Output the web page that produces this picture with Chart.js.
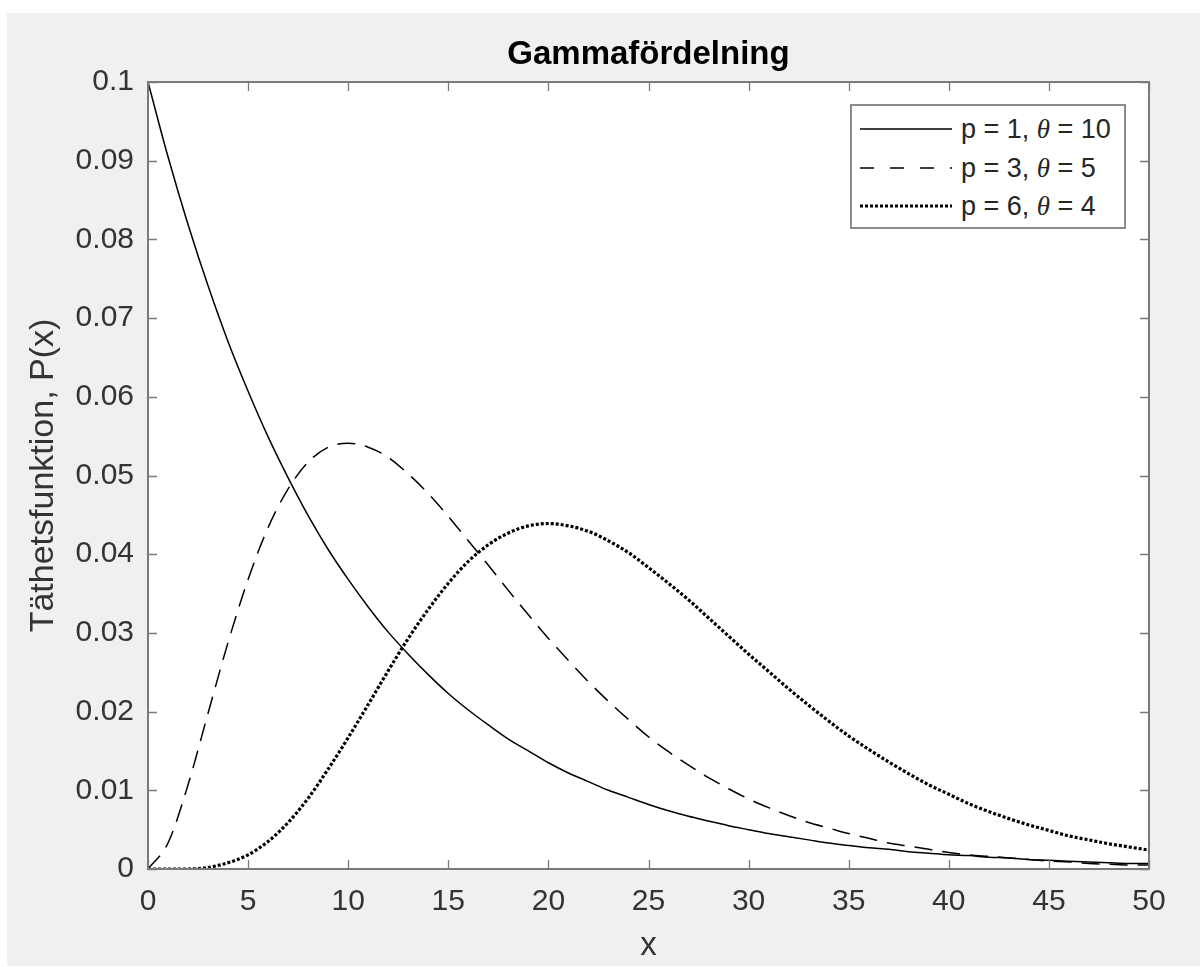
<!DOCTYPE html>
<html>
<head>
<meta charset="utf-8">
<title>Gammafördelning</title>
<script src="https://cdn.jsdelivr.net/npm/chart.js@4/dist/chart.umd.min.js"></script>
<style>
    html, body {
        margin: 0;
        padding: 0;
        background: #ffffff;
        width: 1200px;
        height: 967px;
        overflow: hidden;
    }
    #figure {
        position: absolute;
        left: 7px;
        top: 13px;
        width: 1193px;
        height: 953px;
        background: #f0f0f0;
    }
    #legendBox {
        position: absolute;
        left: 843px;
        top: 91px;
        width: 276px;
        height: 125px;
        box-sizing: border-box;
        border: 2px solid #8c8c8c;
        background: #ffffff;
        font-family: "Liberation Sans", Arial, sans-serif;
        font-size: 27px;
        color: #262626;
    }
    .legend-row {
        position: absolute;
        left: 8px;
        height: 30px;
        line-height: 30px;
        white-space: nowrap;
    }
    .legend-row svg {
        position: absolute;
        left: 0;
        top: 10px;
    }
    .legend-row span {
        position: absolute;
        left: 101px;
        top: 0;
    }
    .legend-row i {
        font-family: "Liberation Serif", serif;
    }
</style>
</head>
<body>
<div id="figure">
    <canvas id="gammaChart" width="1193" height="953"></canvas>
    <div id="legendBox">
        <div class="legend-row" style="top: 8px;">
            <svg width="92" height="10"><line x1="0" y1="5" x2="92" y2="5" stroke="#000" stroke-width="1.5"/></svg>
            <span>p = 1, <i>θ</i> = 10</span>
        </div>
        <div class="legend-row" style="top: 47px;">
            <svg width="92" height="10"><line x1="0" y1="5" x2="92" y2="5" stroke="#000" stroke-width="1.5" stroke-dasharray="14 16"/></svg>
            <span>p = 3, <i>θ</i> = 5</span>
        </div>
        <div class="legend-row" style="top: 85px;">
            <svg width="92" height="10"><line x1="0" y1="5" x2="92" y2="5" stroke="#000" stroke-width="3.2" stroke-dasharray="3 2"/></svg>
            <span>p = 6, <i>θ</i> = 4</span>
        </div>
    </div>
</div>
<script>
// ============================================
// Data
// ============================================

const xValues = [
    0, 1, 2, 3, 4, 5, 6, 7, 8, 9,
    10, 11, 12, 13, 14, 15, 16, 17, 18, 19,
    20, 21, 22, 23, 24, 25, 26, 27, 28, 29,
    30, 31, 32, 33, 34, 35, 36, 37, 38, 39,
    40, 41, 42, 43, 44, 45, 46, 47, 48, 49, 50,
];

// p = 1, theta = 10
const densityP1 = [
    0.1000, 0.0905, 0.0819, 0.0741, 0.0670, 0.0607, 0.0549, 0.0497, 0.0449, 0.0406,
    0.0368, 0.0333, 0.0301, 0.0273, 0.0247, 0.0223, 0.0202, 0.0183, 0.0165, 0.0150,
    0.0135, 0.0122, 0.0111, 0.0100, 0.0091, 0.0082, 0.0074, 0.0067, 0.0061, 0.0055,
    0.0050, 0.0045, 0.0041, 0.0037, 0.0033, 0.0030, 0.0027, 0.0025, 0.0022, 0.0020,
    0.0018, 0.0017, 0.0015, 0.0014, 0.0012, 0.0011, 0.0010, 0.0009, 0.0008, 0.0007, 0.0007,
];

// p = 3, theta = 5
const densityP3 = [
    0.0000, 0.0033, 0.0107, 0.0198, 0.0288, 0.0368, 0.0434, 0.0483, 0.0517, 0.0536,
    0.0541, 0.0536, 0.0523, 0.0502, 0.0477, 0.0448, 0.0417, 0.0386, 0.0354, 0.0323,
    0.0293, 0.0265, 0.0238, 0.0213, 0.0190, 0.0168, 0.0149, 0.0132, 0.0116, 0.0102,
    0.0089, 0.0078, 0.0068, 0.0059, 0.0052, 0.0045, 0.0039, 0.0033, 0.0029, 0.0025,
    0.0021, 0.0018, 0.0016, 0.0014, 0.0012, 0.0010, 0.0009, 0.0007, 0.0006, 0.0005, 0.0005,
];

// p = 6, theta = 4
const densityP6 = [
    0.0000, 0.0000, 0.0000, 0.0002, 0.0008, 0.0018, 0.0035, 0.0059, 0.0090, 0.0127,
    0.0167, 0.0209, 0.0252, 0.0293, 0.0330, 0.0363, 0.0391, 0.0412, 0.0427, 0.0436,
    0.0439, 0.0436, 0.0429, 0.0417, 0.0402, 0.0383, 0.0363, 0.0342, 0.0319, 0.0296,
    0.0273, 0.0251, 0.0229, 0.0208, 0.0188, 0.0169, 0.0152, 0.0136, 0.0121, 0.0107,
    0.0095, 0.0083, 0.0073, 0.0064, 0.0056, 0.0049, 0.0042, 0.0037, 0.0032, 0.0028, 0.0024,
];

const xTickValues = [0, 5, 10, 15, 20, 25, 30, 35, 40, 45, 50];
const yTickValues = [0, 0.01, 0.02, 0.03, 0.04, 0.05, 0.06, 0.07, 0.08, 0.09, 0.1];

const FONT = "'Liberation Sans', Arial, sans-serif";
const AXIS_COLOR = "#7a7a7a";
const TEXT_COLOR = "#333333";

function toPoints(ys) {
    return xValues.map((x, i) => ({ x: x, y: ys[i] }));
}

// ============================================
// Box + inward ticks (MATLAB style)
// ============================================

const axesBoxPlugin = {
    id: "axesBox",
    afterDatasetsDraw(chart) {
        const { ctx, chartArea: a, scales } = chart;
        const tickLen = 9;
        ctx.save();
        ctx.strokeStyle = AXIS_COLOR;
        ctx.lineWidth = 1.3;
        ctx.beginPath();
        xTickValues.forEach((v) => {
            const px = Math.round(scales.x.getPixelForValue(v)) + 0.5;
            ctx.moveTo(px, a.bottom);
            ctx.lineTo(px, a.bottom - tickLen);
            ctx.moveTo(px, a.top);
            ctx.lineTo(px, a.top + tickLen);
        });
        yTickValues.forEach((v) => {
            const py = Math.round(scales.y.getPixelForValue(v)) + 0.5;
            ctx.moveTo(a.left, py);
            ctx.lineTo(a.left + tickLen, py);
            ctx.moveTo(a.right, py);
            ctx.lineTo(a.right - tickLen, py);
        });
        ctx.stroke();

        ctx.lineWidth = 2;
        ctx.strokeRect(a.left, a.top, a.right - a.left, a.bottom - a.top);
        ctx.restore();
    },
};

const whitePlotPlugin = {
    id: "whitePlot",
    beforeDatasetsDraw(chart) {
        const { ctx, chartArea: a } = chart;
        ctx.save();
        ctx.fillStyle = "#ffffff";
        ctx.fillRect(a.left, a.top, a.right - a.left, a.bottom - a.top);
        ctx.restore();
    },
};

// ============================================
// Chart
// ============================================

function lineDataset(label, ys, width, dash) {
    return {
        label: label,
        data: toPoints(ys),
        borderColor: "#000000",
        borderWidth: width,
        borderDash: dash,
        borderCapStyle: "butt",
        pointRadius: 0,
        cubicInterpolationMode: "monotone",
        fill: false,
    };
}

const ctx = document.getElementById("gammaChart").getContext("2d");

new Chart(ctx, {
    type: "line",
    data: {
        datasets: [
            lineDataset("p = 1, θ = 10", densityP1, 1.5, []),
            lineDataset("p = 3, θ = 5", densityP3, 1.5, [18, 10]),
            lineDataset("p = 6, θ = 4", densityP6, 3.2, [3, 2]),
        ],
    },
    options: {
        responsive: false,
        animation: false,
        layout: {
            padding: { top: 0, right: 51, bottom: 0, left: 0 },
        },
        plugins: {
            legend: { display: false },
            tooltip: { enabled: false },
            title: {
                display: true,
                fullSize: false,
                text: "Gammafördelning",
                color: "#000000",
                font: { family: FONT, size: 33, weight: "bold" },
                padding: { top: 22, bottom: 7.4 },
            },
        },
        scales: {
            x: {
                type: "linear",
                min: 0,
                max: 50,
                afterBuildTicks: (scale) => {
                    scale.ticks = xTickValues.map((v) => ({ value: v }));
                },
                afterFit: (scale) => {
                    scale.height = 97;
                },
                grid: { display: false, drawTicks: false },
                border: { display: false },
                ticks: {
                    color: TEXT_COLOR,
                    font: { family: FONT, size: 30 },
                    padding: 15,
                    maxRotation: 0,
                    autoSkip: false,
                    callback: (v) => String(v),
                },
                title: {
                    display: true,
                    text: "x",
                    color: TEXT_COLOR,
                    font: { family: FONT, size: 33 },
                    padding: { top: 0, bottom: 0 },
                },
            },
            y: {
                type: "linear",
                min: 0,
                max: 0.1,
                afterBuildTicks: (scale) => {
                    scale.ticks = yTickValues.map((v) => ({ value: v }));
                },
                afterFit: (scale) => {
                    scale.width = 141;
                },
                grid: { display: false, drawTicks: false },
                border: { display: false },
                ticks: {
                    color: TEXT_COLOR,
                    font: { family: FONT, size: 30 },
                    padding: 14,
                    autoSkip: false,
                    callback: (v) => String(v),
                },
                title: {
                    display: true,
                    text: "Täthetsfunktion, P(x)",
                    color: TEXT_COLOR,
                    font: { family: FONT, size: 34 },
                    padding: { top: 16, bottom: 0 },
                },
            },
        },
    },
    plugins: [whitePlotPlugin, axesBoxPlugin],
});
</script>
</body>
</html>
